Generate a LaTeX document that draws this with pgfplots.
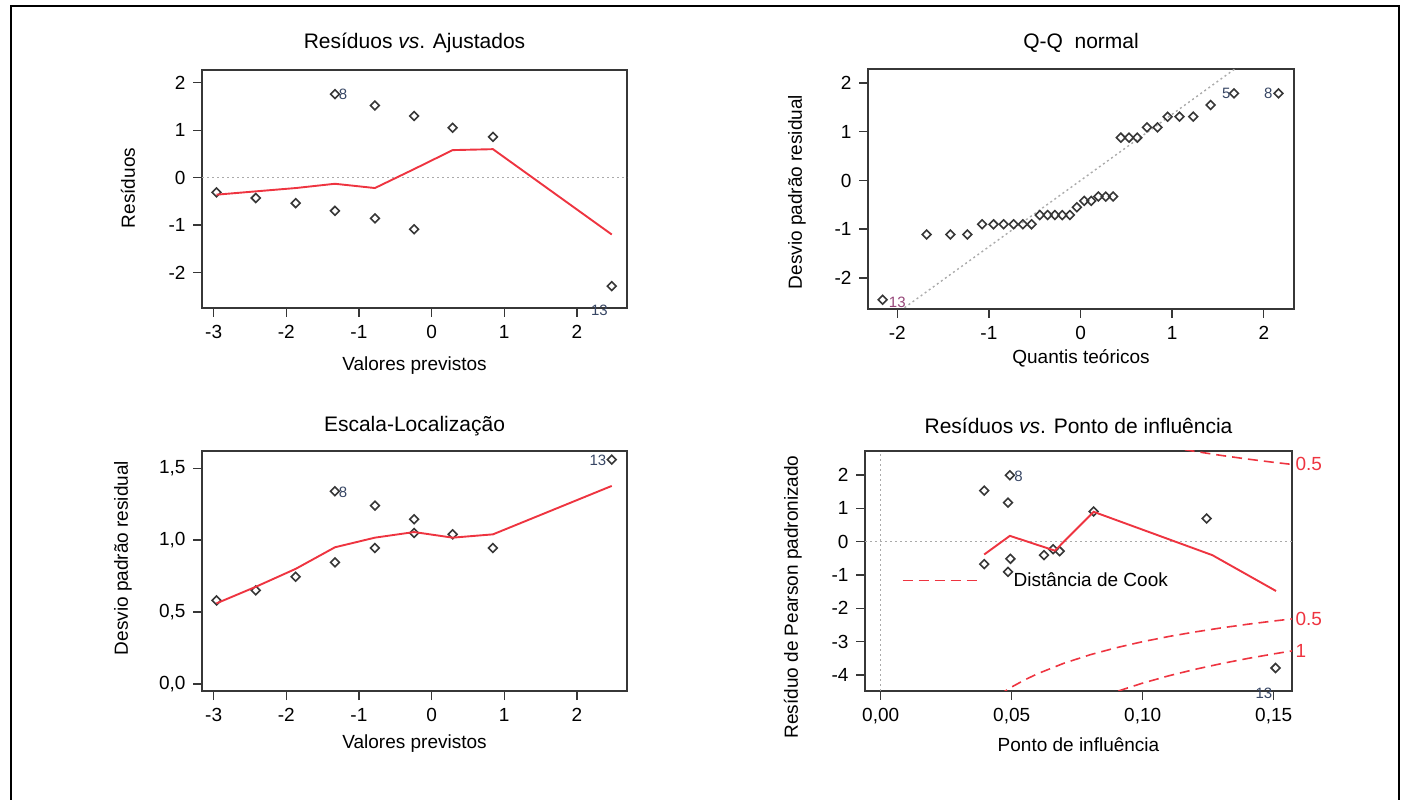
\documentclass[border=0pt]{standalone}
\usepackage{fontspec}
\setmainfont{Liberation Sans}
\usepackage{pgfplots}
\pgfplotsset{compat=1.18}
\definecolor{loess}{RGB}{238,52,64}
\definecolor{ptc}{RGB}{55,55,55}
\definecolor{lbl}{RGB}{55,70,100}
\definecolor{lblp}{RGB}{150,70,120}
\definecolor{zer}{RGB}{170,170,170}
\newcommand{\tfont}{\fontsize{21}{24}\selectfont}
\newcommand{\lfont}{\fontsize{19}{22}\selectfont}
\newcommand{\kfont}{\fontsize{19}{21}\selectfont}
\newcommand{\pfont}{\fontsize{15}{17}\selectfont}
\pgfplotsset{
  rplot/.style={
    scale only axis, anchor=south west, clip mode=individual,
    axis line style={draw=ptc, line width=1.6pt},
    tick style={draw=ptc, line width=1.4pt},
    tick align=outside, major tick length=9pt,
    xtick pos=left, ytick pos=left,
    ticklabel style={font=\kfont, text=black},
    xticklabel style={yshift=-5pt},
    yticklabel style={xshift=-4pt},
    xlabel style={font=\lfont, anchor=center},
    ylabel style={font=\lfont, anchor=center},
    title style={font=\tfont, anchor=center},
  },
  pts/.style={only marks, mark=square, mark size=3.1pt,
    mark options={rotate=45, draw=ptc, line width=1.6pt, fill=none}},
  lo/.style={loess, line width=1.9pt, no marks},
  zl/.style={zer, line width=1.4pt, dash pattern=on 2pt off 3pt, no marks},
  cook/.style={loess, line width=1.6pt, dash pattern=on 10pt off 6pt, no marks},
}
\begin{document}
\begin{tikzpicture}
\useasboundingbox (0pt,0pt) rectangle (1405pt,800pt);
\draw[black, line width=1.6pt] (11pt,0pt) -- (11pt,794pt) -- (1399pt,794pt) -- (1399pt,0pt);

% ---------- Panel 1 ----------
\begin{axis}[rplot, at={(202pt,492pt)}, width=425pt, height=238pt,
  xmin=-3.16, xmax=2.69, ymin=-2.75, ymax=2.27,
  xtick={-3,-2,-1,0,1,2}, xticklabels={-3,-2,-1,0,1,2},
  ytick={-2,-1,0,1,2}, yticklabels={-2,-1,0,1,2},
  title={Resíduos \textit{vs}. Ajustados},
  title style={at={(axis description cs:0.5,1.088)}},
  xlabel={Valores previstos},
  xlabel style={at={(axis description cs:0.5,-0.244)}},
  ylabel={Resíduos},
  ylabel style={at={(axis description cs:-0.174,0.504)}},
]
\addplot[zl] coordinates {(-3.16,0) (2.69,0)};
\addplot[pts] coordinates {
(-2.96,-0.31) (-2.42,-0.43) (-1.87,-0.54) (-1.33,-0.70) (-1.33,1.76)
(-0.78,1.52) (-0.78,-0.86) (-0.24,1.30) (-0.24,-1.09) (0.29,1.05)
(0.845,0.86) (2.48,-2.29)};
\addplot[lo] coordinates {
(-2.96,-0.36) (-2.42,-0.29) (-1.87,-0.22) (-1.33,-0.13) (-0.78,-0.22)
(-0.24,0.18) (0.29,0.58) (0.845,0.60) (2.48,-1.20)};
\node[lbl, font=\pfont] at (axis cs:-1.22,1.75) {8};
\node[lbl, font=\pfont] at (axis cs:2.31,-2.80) {13};
\end{axis}

% ---------- Panel 2 ----------
\begin{axis}[rplot, at={(868pt,491pt)}, width=426pt, height=240pt,
  xmin=-2.32, xmax=2.33, ymin=-2.64, ymax=2.29,
  xtick={-2,-1,0,1,2}, xticklabels={-2,-1,0,1,2},
  ytick={-2,-1,0,1,2}, yticklabels={-2,-1,0,1,2},
  title={Q-Q\ \ normal},
  title style={at={(axis description cs:0.5,1.083)}},
  xlabel={Quantis teóricos},
  xlabel style={at={(axis description cs:0.5,-0.204)}},
  ylabel={Desvio padrão residual},
  ylabel style={at={(axis description cs:-0.167,0.4875)}},
]
\addplot[zl] coordinates {(-2.32,-3.155) (2.33,3.169)};
\addplot[pts] coordinates {
(-2.16,-2.45) (-1.68,-1.11) (-1.42,-1.11) (-1.235,-1.11)
(-1.075,-0.90) (-0.95,-0.90) (-0.84,-0.90) (-0.73,-0.90) (-0.63,-0.90) (-0.535,-0.90)
(-0.445,-0.71) (-0.36,-0.71) (-0.28,-0.71) (-0.20,-0.71) (-0.116,-0.71)
(-0.04,-0.55) (0.04,-0.42) (0.116,-0.42)
(0.195,-0.33) (0.275,-0.33) (0.355,-0.33)
(0.44,0.88) (0.53,0.88) (0.62,0.88)
(0.725,1.09) (0.84,1.09)
(0.95,1.31) (1.08,1.31) (1.23,1.31)
(1.42,1.55) (1.675,1.79) (2.16,1.79)};
\node[lblp, font=\pfont] at (axis cs:-2.00,-2.50) {13};
\node[lbl, font=\pfont] at (axis cs:1.59,1.79) {5};
\node[lbl, font=\pfont] at (axis cs:2.05,1.79) {8};
\end{axis}

% ---------- Panel 3 ----------
\begin{axis}[rplot, at={(202pt,109pt)}, width=425pt, height=240pt,
  xmin=-3.16, xmax=2.69, ymin=-0.05, ymax=1.62,
  xtick={-3,-2,-1,0,1,2}, xticklabels={-3,-2,-1,0,1,2},
  ytick={0,0.5,1,1.5}, yticklabels={{0,0},{0,5},{1,0},{1,5}},
  title={Escala-Localização},
  title style={at={(axis description cs:0.5,1.079)}},
  xlabel={Valores previstos},
  xlabel style={at={(axis description cs:0.5,-0.221)}},
  ylabel={Desvio padrão residual},
  ylabel style={at={(axis description cs:-0.186,0.554)}},
]
\addplot[pts] coordinates {
(-2.96,0.58) (-2.42,0.65) (-1.87,0.745) (-1.33,0.845) (-1.33,1.34)
(-0.78,1.24) (-0.78,0.945) (-0.24,1.145) (-0.24,1.05) (0.29,1.04)
(0.845,0.945) (2.48,1.56)};
\addplot[lo] coordinates {
(-2.96,0.56) (-2.42,0.675) (-1.87,0.80) (-1.33,0.95) (-0.78,1.017)
(-0.24,1.056) (0.29,1.017) (0.845,1.04) (2.48,1.377)};
\node[lbl, font=\pfont] at (axis cs:-1.22,1.333) {8};
\node[lbl, font=\pfont] at (axis cs:2.29,1.555) {13};
\end{axis}

% ---------- Panel 4 ----------
\begin{axis}[rplot, at={(865pt,109pt)}, width=427pt, height=240pt,
  xmin=-0.006, xmax=0.157, ymin=-4.48, ymax=2.72,
  xtick={0,0.05,0.1,0.15}, xticklabels={{0,00},{0,05},{0,10},{0,15}},
  ytick={-4,-3,-2,-1,0,1,2}, yticklabels={-4,-3,-2,-1,0,1,2},
  title={Resíduos \textit{vs}. Ponto de influência},
  title style={at={(axis description cs:0.5,1.079)}},
  xlabel={Ponto de influência},
  xlabel style={at={(axis description cs:0.5,-0.225)}},
  ylabel={Resíduo de Pearson padronizado},
  ylabel style={at={(axis description cs:-0.169,0.392)}},
  legend style={at={(axis cs:0.008,-1.16)}, anchor=west, draw=none, fill=none,
    inner sep=0pt, font=\lfont, nodes={inner sep=0pt}},
  legend image code/.code={\draw[#1] (0pt,0pt) -- (78pt,0pt); \path[draw=none] (0pt,-1pt) rectangle (111pt,1pt);},
]
\addplot[zl, forget plot] coordinates {(-0.006,0) (0.157,0)};
\addplot[zl, forget plot] coordinates {(0,-4.48) (0,2.72)};
\addplot[cook, forget plot] coordinates {
(0.11,2.844) (0.12,2.708) (0.13,2.587) (0.14,2.478) (0.15,2.380) (0.16,2.291)};
\addplot[cook, forget plot] coordinates {
(0.045,-4.607) (0.05,-4.359) (0.055,-4.145) (0.06,-3.958) (0.07,-3.645)
(0.08,-3.391) (0.09,-3.180) (0.10,-3.0) (0.11,-2.844) (0.12,-2.708)
(0.13,-2.587) (0.14,-2.478) (0.15,-2.380) (0.16,-2.291)};
\addplot[cook, forget plot] coordinates {
(0.085,-4.640) (0.09,-4.497) (0.10,-4.243) (0.11,-4.023) (0.12,-3.830)
(0.13,-3.659) (0.14,-3.505) (0.15,-3.367) (0.16,-3.240)};
\addplot[pts, forget plot] coordinates {
(0.0395,1.53) (0.0395,-0.675) (0.0486,1.17) (0.0493,1.99) (0.0495,-0.515)
(0.0486,-0.905) (0.0623,-0.405) (0.0658,-0.225) (0.0683,-0.285)
(0.0813,0.905) (0.1244,0.695) (0.1507,-3.79)};
\addplot[lo, forget plot] coordinates {
(0.0395,-0.385) (0.0493,0.175) (0.0665,-0.27) (0.0813,0.895)
(0.1266,-0.405) (0.1509,-1.48)};
\addlegendimage{cook}
\addlegendentry{Distância de Cook}
\node[lbl, font=\pfont] at (axis cs:0.0526,1.97) {8};
\node[lbl, font=\pfont] at (axis cs:0.1463,-4.56) {13};
\node[loess, font=\kfont, anchor=west] at (axis cs:0.157,2.33) {0.5};
\node[loess, font=\kfont, anchor=west] at (axis cs:0.157,-2.33) {0.5};
\node[loess, font=\kfont, anchor=west] at (axis cs:0.157,-3.28) {1};
\end{axis}
\end{tikzpicture}
\end{document}
